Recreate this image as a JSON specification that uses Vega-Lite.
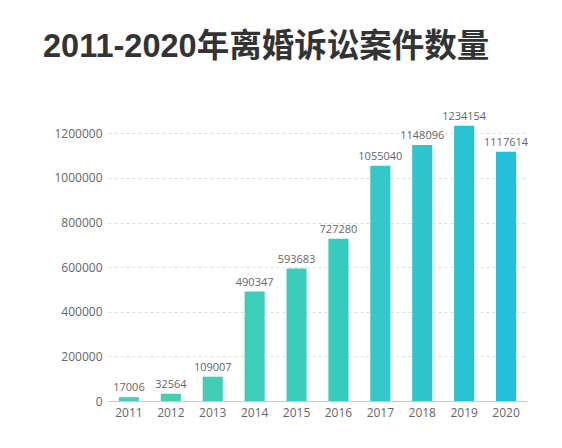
{
  "$schema": "https://vega.github.io/schema/vega-lite/v6.json",
  "autosize": "none",
  "width": 419,
  "height": 290,
  "padding": {"left": 108, "top": 111, "right": 35, "bottom": 47},
  "background": "white",
  "title": {
    "text": "2011-2020年离婚诉讼案件数量",
    "anchor": "start",
    "frame": "group",
    "dx": -65,
    "offset": 47,
    "font": "Liberation Sans, Noto Sans CJK SC",
    "fontSize": 32.5,
    "fontWeight": "bold",
    "color": "#333333"
  },
  "data": {
    "values": [
      {"year": "2011", "cases": 17006},
      {"year": "2012", "cases": 32564},
      {"year": "2013", "cases": 109007},
      {"year": "2014", "cases": 490347},
      {"year": "2015", "cases": 593683},
      {"year": "2016", "cases": 727280},
      {"year": "2017", "cases": 1055040},
      {"year": "2018", "cases": 1148096},
      {"year": "2019", "cases": 1234154},
      {"year": "2020", "cases": 1117614}
    ]
  },
  "config": {
    "view": {"stroke": null},
    "font": "Open Sans"
  },
  "encoding": {
    "x": {
      "field": "year",
      "type": "nominal",
      "sort": null,
      "scale": {"paddingInner": 0.52, "paddingOuter": 0.26},
      "axis": {
        "title": null,
        "labelAngle": 0,
        "labelFont": "Open Sans",
        "labelFontSize": 12,
        "labelColor": "#666666",
        "labelPadding": 6,
        "domainColor": "#cccccc",
        "ticks": false,
        "grid": false
      }
    },
    "y": {
      "field": "cases",
      "type": "quantitative",
      "scale": {"domain": [0, 1300000], "nice": false},
      "axis": {
        "title": null,
        "values": [0, 200000, 400000, 600000, 800000, 1000000, 1200000],
        "format": "d",
        "labelFont": "Open Sans",
        "labelFontSize": 12,
        "labelColor": "#666666",
        "labelPadding": 6,
        "domain": false,
        "ticks": false,
        "gridColor": "#dddddd",
        "gridDash": [3, 3]
      }
    }
  },
  "layer": [
    {
      "mark": {"type": "bar"},
      "encoding": {
        "color": {
          "field": "year",
          "type": "nominal",
          "sort": null,
          "legend": null,
          "scale": {
            "range": ["#47d0b0", "#44cfb3", "#41ceb6", "#3ecdb9", "#3bccbc", "#37cabf", "#33c8c6", "#2ec6cc", "#28c2d3", "#23bedb"]
          }
        }
      }
    },
    {
      "mark": {"type": "text", "baseline": "bottom", "dy": -4, "fontSize": 11, "color": "#666666", "font": "Open Sans"},
      "encoding": {
        "text": {"field": "cases", "type": "quantitative", "format": "d"}
      }
    }
  ]
}
